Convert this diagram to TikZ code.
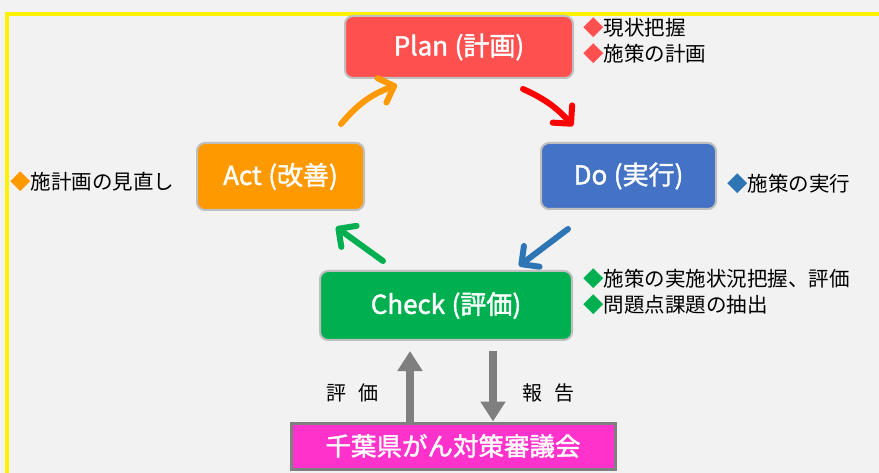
\documentclass[tikz,border=0pt]{standalone}
\usepackage{fontspec}
\setmainfont{Noto Sans CJK JP}
\newfontfamily\boxfont{Noto Sans CJK JP}[FakeBold=1.6]
\usepackage{xcolor}
\usepackage{tikz}
\usetikzlibrary{arrows.meta,positioning}

\definecolor{bggray}{HTML}{F2F2F2}
\definecolor{planred}{HTML}{FF5050}
\definecolor{doblue}{HTML}{4472C4}
\definecolor{diablue}{HTML}{2E75B6}
\definecolor{checkgreen}{HTML}{00B050}
\definecolor{actorange}{HTML}{FF9900}
\definecolor{councilpink}{HTML}{FF33CC}
\definecolor{edgegray}{HTML}{BFBFBF}
\definecolor{arrowgray}{HTML}{7F7F7F}

\begin{document}
\begin{tikzpicture}[
      x=1pt, y=-1pt,
      cycle_box/.style={
         rectangle,
         rounded corners=8pt,
         draw=edgegray,
         line width=2pt,
         text=white,
         inner sep=0pt,
         font=\boxfont\fontsize{26}{30}\selectfont},
      council_box/.style={
         rectangle,
         draw=arrowgray,
         line width=3pt,
         fill=councilpink,
         text=white,
         inner sep=0pt,
         minimum width=324pt,
         minimum height=46pt,
         font=\boxfont\fontsize{25.5}{30}\selectfont},
      note_text/.style={
         anchor=west,
         inner sep=0pt,
         font=\fontsize{20.5}{24}\selectfont},
      cycle_arrow/.style={
         line width=6pt,
         line cap=round,
         -{Straight Barb[round,length=13pt,width=26pt]},
         },
      report_arrow/.style={
         line width=8pt,
         draw=arrowgray,
         -{Triangle[length=20pt,width=24pt]},
         fill=arrowgray,
         }
]
      % background and frame
      \fill[bggray] (0,0) rectangle (879,473);
      \useasboundingbox (0,0) rectangle (879,473);
      \draw[yellow, line width=4pt] (7,480) -- (7,14) -- (890,14);

      % PDCA boxes
      \node[cycle_box, fill=planred, minimum width=228pt, minimum height=62pt] (plan) at (459,47) {Plan\hspace{0.25em}(計画)};
      \node[cycle_box, fill=doblue, minimum width=175pt, minimum height=66pt] (do) at (628.5,176) {Do\hspace{0.25em}(実行)};
      \node[cycle_box, fill=checkgreen, minimum width=252pt, minimum height=69pt] (check) at (446,305.5) {Check\hspace{0.25em}(評価)};
      \node[cycle_box, fill=actorange, minimum width=167pt, minimum height=67pt] (act) at (280.5,176.5) {Act\hspace{0.25em}(改善)};

      % council
      \node[council_box] (council) at (453,446) {千葉県がん対策審議会};

      % notes
      \node[note_text] (plan1) at (583,28) {\textcolor{planred}{◆}現状把握};
      \node[note_text, below=5pt of plan1.south west, anchor=north west] (plan2) {\textcolor{planred}{◆}施策の計画};
      \node[note_text] (do1) at (727,184) {\textcolor{diablue}{◆}施策の実行};
      \node[note_text] (check1) at (583,279) {\textcolor{checkgreen}{◆}施策の実施状況把握、評価};
      \node[note_text, below=5pt of check1.south west, anchor=north west] (check2) {\textcolor{checkgreen}{◆}問題点課題の抽出};
      \node[note_text] (act1) at (10,182) {\textcolor{actorange}{◆}施計画の見直し};

      % cycle arrows
      \coordinate (a1) at (341,124); \coordinate (a2) at (397,85);
      \coordinate (p1) at (523,89);  \coordinate (p2) at (573,126);
      \coordinate (d1) at (568,229); \coordinate (d2) at (519,266);
      \coordinate (c1) at (383,261); \coordinate (c2) at (336,227);

    \foreach \i/\j/\col/\b in {% start/end/colour/bend
       a1/a2/actorange/-15,
       p1/p2/red/-12,
       d1/d2/diablue/0,
       c1/c2/checkgreen/0}
 \draw [cycle_arrow, draw=\col] (\i) to[bend right=\b] (\j);

      % report arrows
      \draw[report_arrow] ([xshift=-43pt]council.north) -- ([xshift=-36pt,yshift=-10pt]check.south);
      \draw[report_arrow] ([xshift=47pt,yshift=-10pt]check.south) -- ([xshift=40pt]council.north);
      \node[font=\fontsize{20}{24}\selectfont] (eval) at (352,393) {評\hspace{0.6em}価};
      \node[font=\fontsize{20}{24}\selectfont] (report) at (548,393) {報\hspace{0.6em}告};
\end{tikzpicture}
\end{document}
